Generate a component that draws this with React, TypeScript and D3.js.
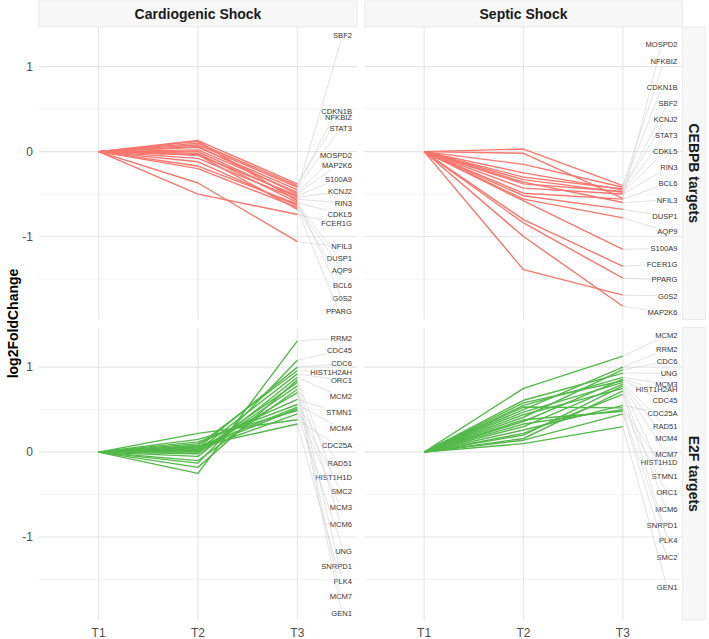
import React from "react";
import * as d3 from "d3";

// ---------- data ----------
const timepoints = ["T1", "T2", "T3"];
const conditions = ["Cardiogenic Shock", "Septic Shock"];
const geneSets = ["CEBPB targets", "E2F targets"];
const setColors = ["#F8766D", "#52B848"];
const yTicks = [-1, 0, 1];
const yMinorTicks = [-1.5, -0.5, 0.5];
const t1Baseline = 0; // log2FoldChange at T1 (reference time point)

// Cardiogenic Shock – CEBPB targets
const csCebpbGenes = ["SBF2", "CDKN1B", "NFKBIZ", "STAT3", "MOSPD2", "MAP2K6", "S100A9", "KCNJ2", "RIN3", "CDKL5", "FCER1G", "NFIL3", "DUSP1", "AQP9", "BCL6", "G0S2", "PPARG"];
const csCebpbT2 = [0.05, 0.10, 0.13, 0.08, 0.02, 0.06, -0.04, 0.0, -0.08, -0.02, -0.50, -0.37, -0.17, -0.12, -0.20, 0.12, -0.04];
const csCebpbT3 = [-0.45, -0.40, -0.38, -0.42, -0.48, -0.50, -0.52, -0.54, -0.56, -0.60, -0.74, -1.06, -0.62, -0.64, -0.66, -0.58, -0.68];
const csCebpbLabelAt = [1.368, 0.474, 0.404, 0.279, -0.044, -0.161, -0.321, -0.471, -0.604, -0.733, -0.847, -1.121, -1.251, -1.396, -1.573, -1.733, -1.886];

// Septic Shock – CEBPB targets
const ssCebpbGenes = ["MOSPD2", "NFKBIZ", "CDKN1B", "SBF2", "KCNJ2", "STAT3", "CDKL5", "RIN3", "BCL6", "NFIL3", "DUSP1", "AQP9", "S100A9", "FCER1G", "PPARG", "G0S2", "MAP2K6"];
const ssCebpbT2 = [-0.02, 0.03, -0.15, -0.30, -0.25, -0.38, -0.33, -0.43, -0.49, -0.36, -0.52, -0.56, -0.58, -0.80, -0.84, -1.39, -1.00];
const ssCebpbT3 = [-0.55, -0.40, -0.42, -0.44, -0.45, -0.47, -0.48, -0.50, -0.56, -0.60, -0.68, -0.78, -1.15, -1.35, -1.49, -1.69, -1.82];
const ssCebpbLabelAt = [1.259, 1.067, 0.761, 0.573, 0.385, 0.196, 0.004, -0.180, -0.369, -0.569, -0.757, -0.941, -1.141, -1.322, -1.506, -1.698, -1.894];

// Cardiogenic Shock – E2F targets
const csE2fGenes = ["RRM2", "CDC45", "CDC6", "HIST1H2AH", "ORC1", "MCM2", "STMN1", "MCM4", "CDC25A", "RAD51", "HIST1H1D", "SMC2", "MCM3", "MCM6", "UNG", "SNRPD1", "PLK4", "MCM7", "GEN1"];
const csE2fT2 = [-0.25, -0.13, 0.05, 0.08, 0.02, -0.05, 0.10, 0.12, 0.22, 0.06, -0.18, 0.04, 0.15, 0.0, 0.03, 0.07, -0.02, -0.10, 0.01];
const csE2fT3 = [1.31, 1.08, 1.00, 0.96, 0.92, 0.88, 0.62, 0.56, 0.38, 0.53, 0.85, 0.51, 0.49, 0.82, 0.45, 0.33, 0.78, 0.74, 0.70];
const csE2fLabelAt = [1.337, 1.192, 1.039, 0.937, 0.847, 0.651, 0.463, 0.278, 0.078, -0.133, -0.298, -0.467, -0.655, -0.851, -1.165, -1.341, -1.518, -1.702, -1.898];

// Septic Shock – E2F targets
const ssE2fGenes = ["MCM2", "RRM2", "CDC6", "UNG", "MCM3", "HIST1H2AH", "CDC45", "CDC25A", "RAD51", "MCM4", "MCM7", "HIST1H1D", "STMN1", "ORC1", "MCM6", "SNRPD1", "PLK4", "SMC2", "GEN1"];
const ssE2fT2 = [0.75, 0.50, 0.41, 0.61, 0.55, 0.36, 0.58, 0.26, 0.47, 0.30, 0.20, 0.53, 0.44, 0.33, 0.16, 0.38, 0.22, 0.14, 0.10];
const ssE2fT3 = [1.13, 1.00, 0.97, 0.93, 0.88, 0.86, 0.84, 0.55, 0.82, 0.80, 0.78, 0.52, 0.75, 0.50, 0.72, 0.48, 0.68, 0.45, 0.30];
const ssE2fLabelAt = [1.369, 1.212, 1.067, 0.925, 0.800, 0.737, 0.604, 0.455, 0.306, 0.157, -0.024, -0.122, -0.290, -0.478, -0.675, -0.859, -1.043, -1.243, -1.596];

// panels[row][col]
const panels = [
  [
    { genes: csCebpbGenes, t2: csCebpbT2, t3: csCebpbT3, labelAt: csCebpbLabelAt },
    { genes: ssCebpbGenes, t2: ssCebpbT2, t3: ssCebpbT3, labelAt: ssCebpbLabelAt },
  ],
  [
    { genes: csE2fGenes, t2: csE2fT2, t3: csE2fT3, labelAt: csE2fLabelAt },
    { genes: ssE2fGenes, t2: ssE2fT2, t3: ssE2fT3, labelAt: ssE2fLabelAt },
  ],
];

// ---------- layout ----------
const W = 709;
const H = 639;
const panelX = [39, 364.5];
const panelW = 318;
const stripTop = 1;
const stripH = 26;
const panelY = [27, 327.5];
const panelH = 292.5;
const rowStripW = 23;
const FONT = '"Liberation Sans", Arial, Helvetica, sans-serif';
const LABEL_SIZE = 7.6;

let measureCtx: CanvasRenderingContext2D | null = null;
function textWidth(s: string, size: number) {
  if (!measureCtx) {
    const c = document.createElement("canvas");
    measureCtx = c.getContext("2d");
  }
  if (!measureCtx) return s.length * size * 0.6;
  measureCtx.font = `${size}px "Liberation Sans", Arial, sans-serif`;
  return measureCtx.measureText(s).width;
}

// clip a segment from P toward C at the box boundary (returns entry point)
function clipToBox(px: number, py: number, cx: number, cy: number, b: { x0: number; x1: number; y0: number; y1: number }) {
  const dx = cx - px;
  const dy = cy - py;
  let tEnter = 0;
  const p = [-dx, dx, -dy, dy];
  const q = [px - b.x0, b.x1 - px, py - b.y0, b.y1 - py];
  for (let i = 0; i < 4; i++) {
    if (p[i] === 0) continue;
    const t = q[i] / p[i];
    if (p[i] < 0) tEnter = Math.max(tEnter, t);
  }
  return [px + dx * tEnter, py + dy * tEnter];
}

export default function App() {
  const allVals = panels.flat().flatMap((p) => [t1Baseline, ...p.t2, ...p.t3]);
  const lo = d3.min(allVals) as number;
  const hi = d3.max(allVals) as number;
  const pad = (hi - lo) * 0.05;

  const x = d3.scalePoint<string>().domain(timepoints).range([0, panelW]).padding(0.6);

  return (
    <svg width={W} height={H} style={{ position: "absolute", left: 0, top: 0, background: "#fff" }} fontFamily={FONT}>
      {/* column strips */}
      {conditions.map((c, ci) => (
        <g key={c}>
          <rect x={panelX[ci]} y={stripTop} width={panelW} height={stripH} fill="#F7F7F7" stroke="#E6E6E6" strokeWidth={0.8} />
          <text x={panelX[ci] + panelW / 2} y={stripTop + stripH / 2} dy="0.36em" textAnchor="middle" fontSize={14} fontWeight="bold" fill="#1A1A1A">
            {c}
          </text>
        </g>
      ))}
      {/* row strips */}
      {geneSets.map((g, ri) => {
        const sx = panelX[1] + panelW;
        const cy = panelY[ri] + panelH / 2;
        return (
          <g key={g}>
            <rect x={sx} y={panelY[ri]} width={rowStripW} height={panelH} fill="#F7F7F7" stroke="#E6E6E6" strokeWidth={0.8} />
            <text transform={`translate(${sx + rowStripW / 2},${cy}) rotate(90)`} dy="0.36em" textAnchor="middle" fontSize={14} fontWeight="bold" fill="#1A1A1A">
              {g}
            </text>
          </g>
        );
      })}

      {panels.map((row, ri) => {
        const y = d3.scaleLinear().domain([lo - pad, hi + pad]).range([panelY[ri] + panelH, panelY[ri]]);
        return row.map((pd, ci) => {
          const x0 = panelX[ci];
          const color = setColors[ri];
          const line = d3
            .line<[string, number]>()
            .x((d) => x0 + (x(d[0]) as number))
            .y((d) => y(d[1]));
          const xT3 = x0 + (x("T3") as number);
          const labelRight = x0 + panelW - 5;
          return (
            <g key={`${ri}-${ci}`}>
              {/* grid */}
              {yMinorTicks.map((t) => (
                <line key={`mn${t}`} x1={x0} x2={x0 + panelW} y1={y(t)} y2={y(t)} stroke="#EFEFEF" strokeWidth={0.7} />
              ))}
              {yTicks.map((t) => (
                <line key={`mj${t}`} x1={x0} x2={x0 + panelW} y1={y(t)} y2={y(t)} stroke="#E6E6E6" strokeWidth={1.1} />
              ))}
              {timepoints.map((t) => (
                <line key={`v${t}`} x1={x0 + (x(t) as number)} x2={x0 + (x(t) as number)} y1={panelY[ri]} y2={panelY[ri] + panelH} stroke="#E6E6E6" strokeWidth={1.1} />
              ))}
              {/* lines */}
              {pd.genes.map((g, i) => (
                <path
                  key={`l${g}`}
                  d={line([
                    ["T1", t1Baseline],
                    ["T2", pd.t2[i]],
                    ["T3", pd.t3[i]],
                  ]) as string}
                  fill="none"
                  stroke={color}
                  strokeWidth={1.4}
                  strokeLinejoin="round"
                />
              ))}
              {/* repel segments + labels */}
              {pd.genes.map((g, i) => {
                const w = textWidth(g, LABEL_SIZE);
                const ly = y(pd.labelAt[i]);
                const box = { x0: labelRight - w - 1, x1: labelRight + 1, y0: ly - 4.5, y1: ly + 4.5 };
                const px = xT3;
                const py = y(pd.t3[i]);
                const [ex, ey] = clipToBox(px, py, (box.x0 + box.x1) / 2, ly, box);
                const len = Math.hypot(ex - px, ey - py);
                return (
                  <g key={`t${g}`}>
                    {len > 3 && <line x1={px} y1={py} x2={ex} y2={ey} stroke="#CFCFCF" strokeWidth={0.6} />}
                    <text x={labelRight} y={ly} dy="0.35em" textAnchor="end" fontSize={LABEL_SIZE} fill="#333333">
                      {g}
                    </text>
                  </g>
                );
              })}
            </g>
          );
        });
      })}

      {/* y axis tick labels */}
      {panels.map((_, ri) => {
        const y = d3.scaleLinear().domain([lo - pad, hi + pad]).range([panelY[ri] + panelH, panelY[ri]]);
        return yTicks.map((t) => (
          <text key={`yt${ri}${t}`} x={panelX[0] - 6} y={y(t)} dy="0.35em" textAnchor="end" fontSize={12} fill="#4D4D4D">
            {t}
          </text>
        ));
      })}
      {/* x axis tick labels */}
      {conditions.map((c, ci) =>
        timepoints.map((t) => (
          <text key={`xt${ci}${t}`} x={panelX[ci] + (x(t) as number)} y={panelY[1] + panelH + 13} dy="0.35em" textAnchor="middle" fontSize={12} fill="#4D4D4D">
            {t}
          </text>
        ))
      )}
      {/* y title */}
      <text transform={`translate(13,${(panelY[0] + panelY[1] + panelH) / 2}) rotate(-90)`} dy="0.36em" textAnchor="middle" fontSize={14} fontWeight="bold" fill="#000">
        log2FoldChange
      </text>
    </svg>
  );
}
